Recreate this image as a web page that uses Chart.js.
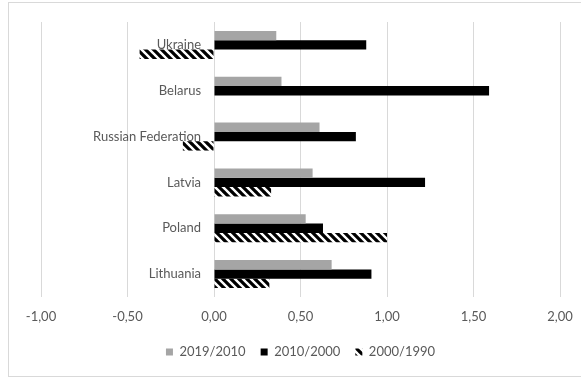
<!DOCTYPE html>
<html><head><meta charset="utf-8">
<script src="https://cdn.jsdelivr.net/npm/chart.js@4"></script>
<style>
html,body{margin:0;padding:0;background:#fff;}
#wrap{position:relative;width:581px;height:377px;overflow:hidden;}
#frame{position:absolute;left:8px;top:2px;width:600px;height:375px;border:1px solid #d9d9d9;box-sizing:border-box;}
canvas{position:absolute;left:0;top:0;}
</style></head>
<body><div id="wrap"><div id="frame"></div><canvas id="c" width="581" height="377"></canvas></div>
<script>
const categories = ['Ukraine', 'Belarus', 'Russian Federation', 'Latvia', 'Poland', 'Lithuania'];
const seriesNames = ['2019/2010', '2010/2000', '2000/1990'];
const s2019_2010 = [0.36, 0.39, 0.61, 0.57, 0.53, 0.68];
const s2010_2000 = [0.88, 1.59, 0.82, 1.22, 0.63, 0.91];
const s2000_1990 = [-0.43, 0, -0.18, 0.33, 1.00, 0.32];
const xTicks = [-1, -0.5, 0, 0.5, 1, 1.5, 2];

function makeHatch() {
  const s = 8;
  const c = document.createElement('canvas');
  c.width = s; c.height = s;
  const g = c.getContext('2d');
  g.fillStyle = '#ffffff'; g.fillRect(0, 0, s, s);
  g.strokeStyle = '#000000'; g.lineWidth = 3.2;
  g.beginPath();
  for (const x0 of [-s, 0, s]) { g.moveTo(x0 - 1, -1); g.lineTo(x0 + s + 1, s + 1); }
  g.stroke();
  return document.getElementById('c').getContext('2d').createPattern(c, 'repeat');
}
const hatch = makeHatch();
const FONT = 'Lato, "Open Sans", sans-serif';
const TXT = '#595959';

new Chart(document.getElementById('c'), {
  type: 'bar',
  data: {
    labels: categories,
    datasets: [
      { label: seriesNames[0], data: s2019_2010, backgroundColor: '#a5a5a5' },
      { label: seriesNames[1], data: s2010_2000, backgroundColor: '#000000' },
      { label: seriesNames[2], data: s2000_1990, backgroundColor: hatch }
    ]
  },
  options: {
    indexAxis: 'y',
    responsive: false,
    animation: false,
    devicePixelRatio: 1,
    datasets: { bar: { categoryPercentage: 0.61, barPercentage: 1, borderWidth: 0 } },
    layout: { padding: { left: 41, right: 21, top: 22, bottom: 8.5 } },
    plugins: {
      tooltip: { enabled: false },
      legend: {
        position: 'bottom',
        labels: { boxWidth: 7, boxHeight: 7, padding: 15, color: TXT, font: { family: FONT, size: 13 } }
      }
    },
    scales: {
      x: {
        min: -1, max: 2,
        afterBuildTicks: s => { s.ticks = xTicks.map(v => ({ value: v })); },
        afterFit: s => { s.height = 33.5; },
        ticks: { color: TXT, font: { family: FONT, size: 13 }, padding: 0,
          callback: v => v.toFixed(2).replace('.', ',') },
        grid: { color: '#d9d9d9', drawTicks: true, tickLength: 12, tickColor: 'rgba(0,0,0,0)' },
        border: { display: false }
      },
      y: {
        position: { x: -0.075 },
        grid: { display: false, drawTicks: false },
        border: { display: false },
        ticks: { color: TXT, font: { family: FONT, size: 13 }, padding: 0 }
      }
    }
  }
});
</script>
</body></html>
